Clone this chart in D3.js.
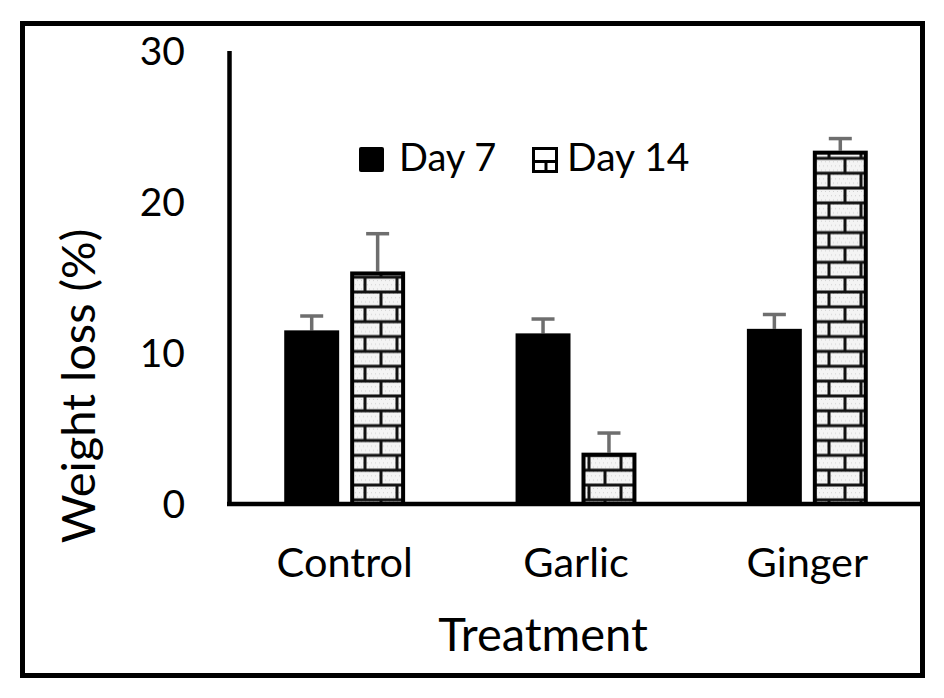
<!DOCTYPE html>
<html>
<head>
<meta charset="utf-8">
<script src="https://cdn.jsdelivr.net/npm/d3@7"></script>
<style>
  html, body { margin: 0; padding: 0; background: #fff; }
  svg { display: block; }
  text { font-family: Lato, "Noto Sans", sans-serif; fill: #000; }
</style>
</head>
<body>
<svg id="chart" width="944" height="698"></svg>
<script>
// ---- data ----
const categories = ["Control", "Garlic", "Ginger"];
const seriesNames = ["Day 7", "Day 14"];
const day7 = [11.5, 11.3, 11.6];
const day14 = [15.4, 3.4, 23.4];
const day7Err = [0.95, 0.95, 0.95];
const day14Err = [2.5, 1.3, 0.8];
const yTicks = [0, 10, 20, 30];
const yLabel = "Weight loss (%)";
const xLabel = "Treatment";

const svg = d3.select("#chart");

// frame
svg.append("rect")
  .attr("x", 22.5).attr("y", 23.5).attr("width", 900).attr("height", 652)
  .attr("fill", "none").attr("stroke", "#000").attr("stroke-width", 5);

// brick pattern
const defs = svg.append("defs");
const rowH = 14.85, brickW = 32;
const pat = defs.append("pattern")
  .attr("id", "brick")
  .attr("patternUnits", "userSpaceOnUse")
  .attr("x", 29).attr("y", 24.7)
  .attr("width", brickW).attr("height", rowH * 2);
pat.append("rect").attr("width", brickW).attr("height", rowH * 2).attr("fill", "#f4f4f4");
for (let i = 0; i < 8; i++) {
  for (let j = 0; j < 7; j++) {
    pat.append("rect").attr("x", i * 4 + (j % 2) * 2).attr("y", j * 4.2 + 1)
      .attr("width", 1).attr("height", 1).attr("fill", "#d0d0d0");
  }
}
pat.append("rect").attr("x", 0).attr("y", -1.5).attr("width", brickW).attr("height", 3).attr("fill", "#111");
pat.append("rect").attr("x", 0).attr("y", rowH * 2 - 1.5).attr("width", brickW).attr("height", 3).attr("fill", "#111");
pat.append("rect").attr("x", 0).attr("y", rowH - 1.5).attr("width", brickW).attr("height", 3).attr("fill", "#111");
pat.append("rect").attr("x", -1.5).attr("y", 0).attr("width", 3).attr("height", rowH).attr("fill", "#111");
pat.append("rect").attr("x", brickW - 1.5).attr("y", 0).attr("width", 3).attr("height", rowH).attr("fill", "#111");
pat.append("rect").attr("x", brickW / 2 - 1.5).attr("y", rowH).attr("width", 3).attr("height", rowH).attr("fill", "#111");

// scales
const x0 = d3.scaleBand().domain(categories).range([229, 923]).paddingInner(0).paddingOuter(0);
const x1 = d3.scaleBand().domain(seriesNames).range([0, x0.bandwidth()])
  .paddingInner(0.1667).paddingOuter(0.8375);
const y = d3.scaleLinear().domain([0, 30]).range([504, 51]);

// bars
const rows = categories.map((c, i) => ({
  cat: c,
  vals: [
    { s: "Day 7", v: day7[i], e: day7Err[i] },
    { s: "Day 14", v: day14[i], e: day14Err[i] }
  ]
}));

const g = svg.append("g");
rows.forEach(r => {
  r.vals.forEach(d => {
    const bx = x0(r.cat) + x1(d.s);
    const bw = x1.bandwidth();
    const cx = bx + bw / 2;
    g.append("line").attr("x1", cx).attr("x2", cx)
      .attr("y1", y(d.v)).attr("y2", y(d.v + d.e))
      .attr("stroke", "#6e6e6e").attr("stroke-width", 3.5);
    g.append("line").attr("x1", cx - 11.5).attr("x2", cx + 11.5)
      .attr("y1", y(d.v + d.e)).attr("y2", y(d.v + d.e))
      .attr("stroke", "#6e6e6e").attr("stroke-width", 3.5);
    if (d.s === "Day 7") {
      g.append("rect").attr("x", bx).attr("y", y(d.v))
        .attr("width", bw).attr("height", y(0) - y(d.v))
        .attr("fill", "#000");
    } else {
      g.append("rect").attr("x", bx + 2).attr("y", y(d.v) + 2)
        .attr("width", bw - 4).attr("height", y(0) - y(d.v) - 2)
        .attr("fill", "url(#brick)")
        .attr("stroke", "#000").attr("stroke-width", 4);
    }
  });
});

// axes lines
svg.append("line").attr("x1", 229.5).attr("x2", 229.5).attr("y1", 51).attr("y2", 506)
  .attr("stroke", "#000").attr("stroke-width", 4.5);
svg.append("line").attr("x1", 227).attr("x2", 921).attr("y1", 504).attr("y2", 504)
  .attr("stroke", "#000").attr("stroke-width", 4.5);

// y tick labels
svg.append("g").selectAll("text").data(yTicks).join("text")
  .attr("x", 185).attr("y", d => y(d))
  .attr("dy", "0.36em")
  .attr("text-anchor", "end")
  .attr("font-size", 39)
  .text(d => d);

// x category labels
svg.append("g").selectAll("text").data(categories).join("text")
  .attr("x", d => x0(d) + x0.bandwidth() / 2)
  .attr("y", 577)
  .attr("text-anchor", "middle")
  .attr("font-size", 41.5)
  .text(d => d);

// axis titles
svg.append("text").attr("x", 543).attr("y", 651)
  .attr("text-anchor", "middle").attr("font-size", 47).text(xLabel);
svg.append("text")
  .attr("transform", "translate(95,386) rotate(-90)")
  .attr("text-anchor", "middle").attr("font-size", 47).text(yLabel);

// legend
const lg = svg.append("g");
lg.append("rect").attr("x", 359).attr("y", 147).attr("width", 25).attr("height", 25)
  .attr("rx", 2).attr("fill", "#000");
lg.append("text").attr("x", 399).attr("y", 171).attr("font-size", 38).text(seriesNames[0]);
lg.append("rect").attr("x", 533.5).attr("y", 148.5).attr("width", 23).attr("height", 23)
  .attr("fill", "#fff").attr("stroke", "#000").attr("stroke-width", 3);
lg.append("line").attr("x1", 533).attr("x2", 557).attr("y1", 161.5).attr("y2", 161.5)
  .attr("stroke", "#000").attr("stroke-width", 3);
lg.append("line").attr("x1", 546).attr("x2", 546).attr("y1", 161).attr("y2", 171)
  .attr("stroke", "#000").attr("stroke-width", 3);
lg.append("text").attr("x", 567).attr("y", 171).attr("font-size", 39).text(seriesNames[1]);
</script>
</body>
</html>
